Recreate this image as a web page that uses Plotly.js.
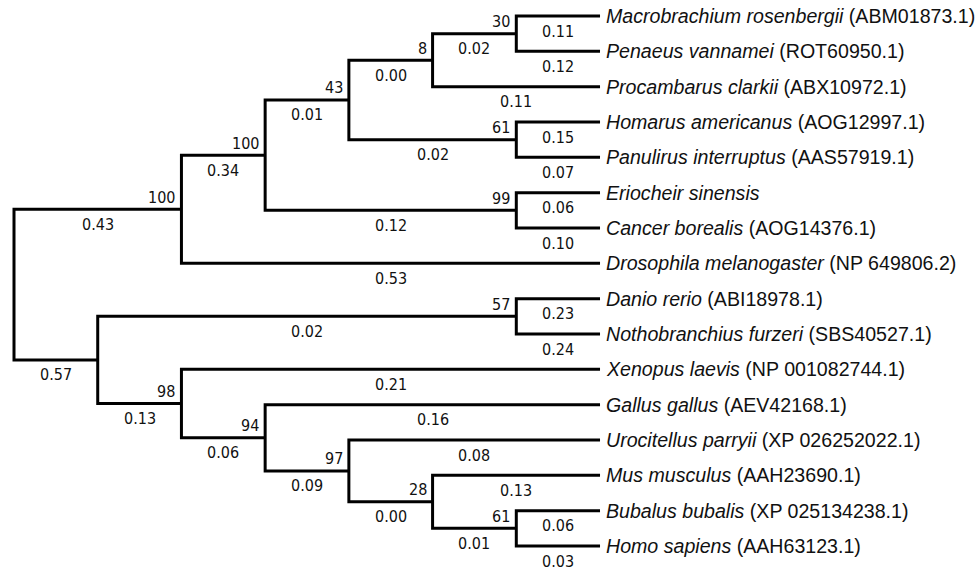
<!DOCTYPE html>
<html><head><meta charset="utf-8">
<script src="https://cdn.plot.ly/plotly-3.0.1.min.js"></script>
<style>html,body{margin:0;padding:0;background:#fff}</style>
</head><body><div id="chart" style="width:979px;height:570px"></div>
<script>
// Tips (top to bottom)
const tipSpecies = [
  "Macrobrachium rosenbergii", "Penaeus vannamei", "Procambarus clarkii",
  "Homarus americanus", "Panulirus interruptus", "Eriocheir sinensis",
  "Cancer borealis", "Drosophila melanogaster", "Danio rerio",
  "Nothobranchius furzeri", "Xenopus laevis", "Gallus gallus",
  "Urocitellus parryii", "Mus musculus", "Bubalus bubalis", "Homo sapiens"
];
const tipAccessions = [
  "(ABM01873.1)", "(ROT60950.1)", "(ABX10972.1)", "(AOG12997.1)",
  "(AAS57919.1)", "", "(AOG14376.1)", "(NP 649806.2)", "(ABI18978.1)",
  "(SBS40527.1)", "(NP 001082744.1)", "(AEV42168.1)", "(XP 026252022.1)",
  "(AAH23690.1)", "(XP 025134238.1)", "(AAH63123.1)"
];
const tipBranchLengths = [0.11, 0.12, 0.11, 0.15, 0.07, 0.06, 0.10, 0.53,
  0.23, 0.24, 0.21, 0.16, 0.08, 0.13, 0.06, 0.03];

// Internal nodes (ids 16..30), children given by node id
const nodeChildren = [[0,1],[16,2],[3,4],[17,18],[5,6],[19,20],[21,7],
  [8,9],[14,15],[13,24],[12,25],[11,26],[10,27],[23,28],[22,29]];
const nodeBootstrap = [30, 8, 61, 43, 99, 100, 100, 57, 61, 28, 97, 94, 98, null, null];
const nodeBranchLengths = [0.02, 0.00, 0.02, 0.01, 0.12, 0.34, 0.43,
  0.02, 0.01, 0.00, 0.09, 0.06, 0.13, 0.57, null];

// ---- layout of the cladogram ----
const nTips = tipSpecies.length;
const N = nTips + nodeChildren.length;
const height = new Array(N).fill(0), yPos = new Array(N).fill(0), parent = new Array(N).fill(-1);
for (let i = 0; i < nTips; i++) yPos[i] = i;
nodeChildren.forEach((ch, k) => {
  const id = nTips + k;
  height[id] = 1 + Math.max(...ch.map(c => height[c]));
  yPos[id] = ch.reduce((s, c) => s + yPos[c], 0) / ch.length;
  ch.forEach(c => parent[c] = id);
});
const maxH = height[N - 1];
const xPos = height.map(h => maxH - h);

const xs = [], ys = [];
nodeChildren.forEach((ch, k) => {
  const id = nTips + k;
  const a = ch[0], b = ch[ch.length - 1];
  xs.push(xPos[a], xPos[id], xPos[id], xPos[b], null);
  ys.push(yPos[a], yPos[a], yPos[b], yPos[b], null);
});

const numFont = {family: "DejaVu Sans Condensed, DejaVu Sans, sans-serif", size: 16, color: "#111"};
const labFont = {family: "Liberation Sans, Arial, sans-serif", size: 19.6, color: "#111"};
const ann = [];
for (let i = 0; i < nTips; i++) {
  ann.push({x: xPos[i], y: yPos[i], xref: "x", yref: "y", showarrow: false,
    xanchor: "left", yanchor: "middle", xshift: 4, font: labFont,
    text: "<i>" + tipSpecies[i] + "</i>" + (tipAccessions[i] ? " " + tipAccessions[i] : "")});
}
const branchLen = tipBranchLengths.concat(nodeBranchLengths);
for (let i = 0; i < N; i++) {
  if (parent[i] < 0 || branchLen[i] === null) continue;
  ann.push({x: (xPos[i] + xPos[parent[i]]) / 2, y: yPos[i], xref: "x", yref: "y",
    showarrow: false, xanchor: "center", yanchor: "middle", yshift: -15,
    font: numFont, text: branchLen[i].toFixed(2)});
}
nodeBootstrap.forEach((bs, k) => {
  if (bs === null) return;
  const id = nTips + k;
  ann.push({x: xPos[id], y: yPos[id], xref: "x", yref: "y", showarrow: false,
    xanchor: "right", yanchor: "middle", xshift: -4, yshift: 12,
    font: numFont, text: String(bs)});
});

Plotly.newPlot("chart", [{
  x: xs, y: ys, type: "scatter", mode: "lines", hoverinfo: "skip",
  line: {color: "#000", width: 3}, connectgaps: false
}], {
  width: 979, height: 570,
  margin: {l: 4, r: 0, t: 0, b: 0},
  paper_bgcolor: "#fff", plot_bgcolor: "#fff",
  showlegend: false,
  xaxis: {range: [-0.1195, 11.527], visible: false, fixedrange: true},
  yaxis: {range: [15.679, -0.4528], visible: false, fixedrange: true},
  annotations: ann
}, {staticPlot: true});
</script></body></html>
